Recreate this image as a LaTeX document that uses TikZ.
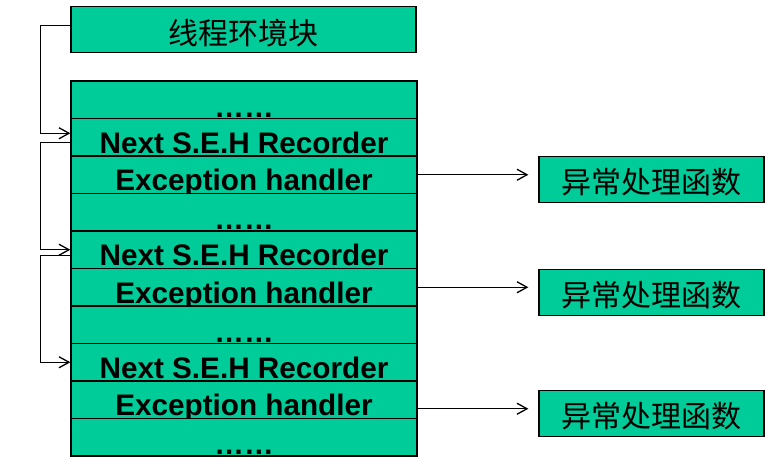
\documentclass[tikz,border=0pt]{standalone}
\usepackage{fontspec}
\setmainfont{Liberation Sans}
\newfontfamily\cjk{Noto Sans CJK SC}
\usetikzlibrary{arrows.meta, calc}

\definecolor{sehgreen}{RGB}{0,204,153}

\begin{document}
\begin{tikzpicture}[x=1pt, y=-1pt,
    cell/.style={draw, line width=1.3pt, fill=sehgreen, inner sep=0pt,
        minimum width=346pt, minimum height=37.5pt,
        font=\fontsize{29.7}{30}\selectfont\bfseries},
    dotsrow/.style={cell, text height=34.5pt, text depth=0pt},
    fieldrow/.style={cell, text height=31.5pt, text depth=0pt},
    func/.style={draw, line width=1.3pt, fill=sehgreen, inner sep=0pt,
        minimum width=225pt, minimum height=46pt,
        text height=31pt, text depth=3.6pt,
        font=\cjk\fontsize{30}{30}\selectfont},
    link/.style={line width=1.3pt, -{Straight Barb[length=10pt, width=11pt]}}]
    \useasboundingbox (0,0) rectangle (780,467);

    % thread environment block
    \node[func, minimum width=345pt, text height=33pt] (teb) at (243.5,29.3) {线程环境块};

    % the stack, row by row
    \foreach \i/\t/\s in {1/……/dotsrow, 2/Next S.E.H Recorder/fieldrow,
            3/Exception handler/fieldrow, 4/……/dotsrow,
            5/Next S.E.H Recorder/fieldrow, 6/Exception handler/fieldrow,
            7/……/dotsrow, 8/Next S.E.H Recorder/fieldrow,
            9/Exception handler/fieldrow, 10/……/dotsrow}
        \node[\s] (row\i) at (244,{62.25+37.5*\i}) {\t};

    % handler functions
    \node[func] (h1) at (651.5,179.7) {异常处理函数};
    \node[func] (h2) at (651.5,292.3) {异常处理函数};
    \node[func] (h3) at (651.5,413.7) {异常处理函数};

    % chain of records
    \draw[link] ([yshift=4pt]teb.west) -- ++(-30,0) |- ([yshift=4pt]row2.west);
    \draw[link] ([yshift=-5.5pt]row2.west) -- ++(-30,0) |- (row5.west);
    \draw[link] ([yshift=-5.5pt]row5.west) -- ++(-30,0) |- (row8.west);

    % handler pointers
    \foreach \r/\h/\d in {3/h1/0, 6/h2/0, 9/h3/-9}
        \draw[link] ([yshift=\d pt]row\r.east)
            -- ([xshift=-10pt, yshift=\d pt]row\r.east -| \h.west);
\end{tikzpicture}
\end{document}
